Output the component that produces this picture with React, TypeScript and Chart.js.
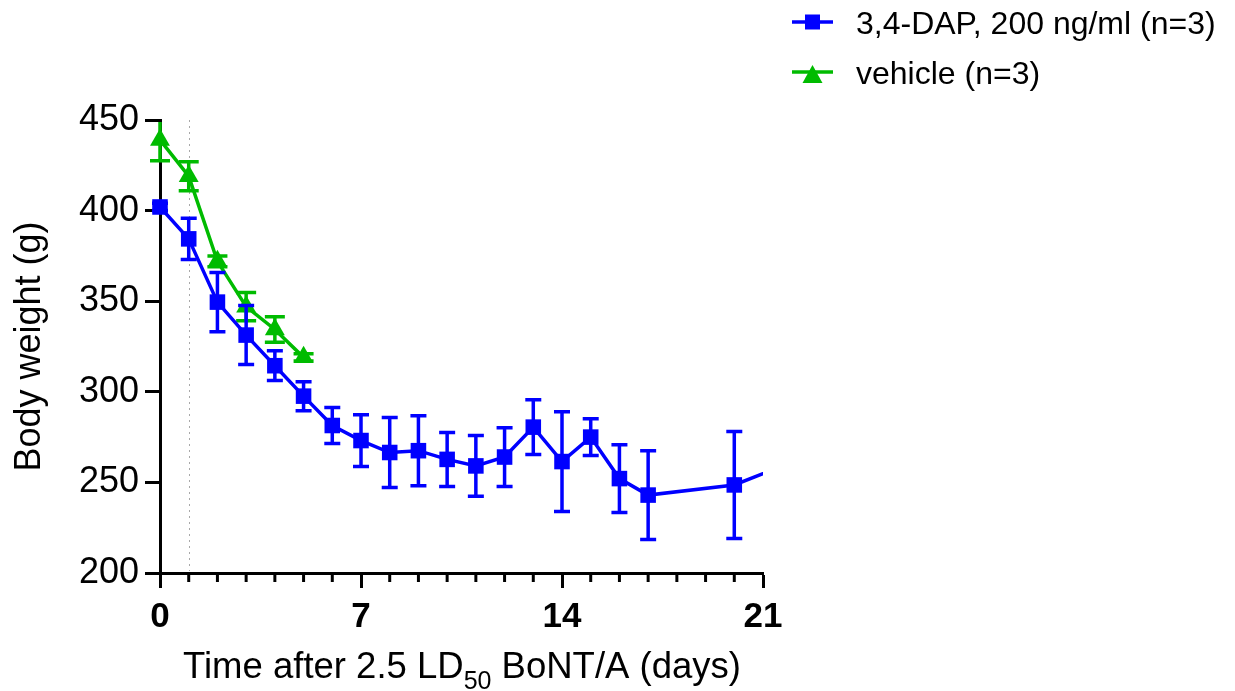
import React, { useEffect, useRef } from 'react';
import { Chart, registerables } from 'chart.js';

Chart.register(...registerables);

// ---- data ----
const dapDays = [0, 1, 2, 3, 4, 5, 6, 7, 8, 9, 10, 11, 12, 13, 14, 15, 16, 17, 20, 22];
const dapMean = [402, 384.4, 349.5, 331.3, 314.4, 297.6, 281.4, 273.1, 266.5, 267.5, 262.7, 259.1, 264, 280.5, 261.5, 275, 252.1, 243, 248.6, 261];
const dapErr = [2, 11.4, 16.3, 16.3, 8.2, 8, 9.9, 14.3, 19.3, 19.3, 14.9, 16.8, 16.2, 15.1, 27.5, 10.1, 18.7, 24.5, 29.5, 20];

const vehDays = [0, 1, 2, 3, 4, 5];
const vehMean = [439, 419, 372, 347, 334.4, 319];
const vehErr = [11.5, 8, 3, 7.8, 7, 2];

const seriesLabels = ['3,4-DAP, 200 ng/ml (n=3)', 'vehicle (n=3)'];
const seriesColors = ['#0000ff', '#00bb00'];
const xTicks = [0, 7, 14, 21];
const yTicks = [200, 250, 300, 350, 400, 450];
const minorDays = [1, 2, 3, 4, 5, 6, 8, 9, 10, 11, 12, 13, 15, 16, 17, 18, 19, 20];
const refLineDay = 1;
const xTitleParts = ['Time after 2.5 LD', '50', ' BoNT/A (days)'];
const yTitle = 'Body weight (g)';

const FONT = '"Liberation Sans", Arial, Helvetica, sans-serif';
const errorSets = [dapErr, vehErr];
const capWidths = [16, 20];

const errorBarPlugin = {
  id: 'errorBars',
  beforeDatasetDraw(chart: any, args: any) {
    const i = args.index;
    const { ctx, chartArea, scales } = chart;
    const x = scales.x, y = scales.y;
    const ds = chart.data.datasets[i];
    const errs = errorSets[i];
    const cap = capWidths[i];
    ctx.save();
    ctx.beginPath();
    ctx.rect(chartArea.left - 30, chartArea.top + 2, chartArea.right - chartArea.left + 30, chartArea.bottom - chartArea.top + 30);
    ctx.clip();
    ctx.strokeStyle = ds.borderColor;
    ctx.lineWidth = 3.5;
    ctx.lineCap = 'butt';
    ds.data.forEach((p: any, j: number) => {
      const px = x.getPixelForValue(p.x);
      const top = y.getPixelForValue(p.y + errs[j]);
      const bot = y.getPixelForValue(p.y - errs[j]);
      ctx.beginPath();
      ctx.moveTo(px, top);
      ctx.lineTo(px, bot);
      ctx.moveTo(px - cap / 2, top);
      ctx.lineTo(px + cap / 2, top);
      ctx.moveTo(px - cap / 2, bot);
      ctx.lineTo(px + cap / 2, bot);
      ctx.stroke();
    });
    ctx.restore();
  },
};

const decorPlugin = {
  id: 'decor',
  beforeDatasetsDraw(chart: any) {
    const { ctx, chartArea, scales } = chart;
    const x = scales.x;
    ctx.save();
    // dotted reference line
    const rx = Math.round(x.getPixelForValue(refLineDay)) + 0.5;
    ctx.strokeStyle = '#a8a8a8';
    ctx.lineWidth = 1;
    ctx.setLineDash([2, 4]);
    ctx.beginPath();
    ctx.moveTo(rx, chartArea.top);
    ctx.lineTo(rx, chartArea.bottom - 2);
    ctx.stroke();
    ctx.setLineDash([]);
    // minor x ticks
    ctx.strokeStyle = '#000';
    ctx.lineWidth = 3;
    minorDays.forEach((d) => {
      const px = x.getPixelForValue(d);
      ctx.beginPath();
      ctx.moveTo(px, chartArea.bottom);
      ctx.lineTo(px, chartArea.bottom + 9);
      ctx.stroke();
    });
    ctx.restore();
  },
  afterDraw(chart: any) {
    const { ctx } = chart;
    ctx.save();
    // x-axis title with subscript
    const big = `36.5px ${FONT}`;
    const small = `25px ${FONT}`;
    ctx.font = big;
    const w0 = ctx.measureText(xTitleParts[0]).width;
    const w2 = ctx.measureText(xTitleParts[2]).width;
    ctx.font = small;
    const w1 = ctx.measureText(xTitleParts[1]).width;
    const total = w0 + w1 + w2;
    let sx = 462 - total / 2;
    const base = 678;
    ctx.fillStyle = '#000';
    ctx.textBaseline = 'alphabetic';
    ctx.textAlign = 'left';
    ctx.font = big;
    ctx.fillText(xTitleParts[0], sx, base);
    sx += w0;
    ctx.font = small;
    ctx.fillText(xTitleParts[1], sx, base + 11);
    sx += w1;
    ctx.font = big;
    ctx.fillText(xTitleParts[2], sx, base);

    // legend
    const rows = [22, 72];
    ctx.font = `32px ${FONT}`;
    rows.forEach((ry, i) => {
      ctx.strokeStyle = seriesColors[i];
      ctx.fillStyle = seriesColors[i];
      ctx.lineWidth = 3.5;
      ctx.beginPath();
      ctx.moveTo(792, ry);
      ctx.lineTo(833, ry);
      ctx.stroke();
      const cx = 812.5;
      if (i === 0) {
        ctx.fillRect(cx - 7.5, ry - 7.5, 15, 15);
      } else {
        ctx.beginPath();
        ctx.moveTo(cx, ry - 7);
        ctx.lineTo(cx + 10, ry + 11);
        ctx.lineTo(cx - 10, ry + 11);
        ctx.closePath();
        ctx.fill();
      }
      ctx.fillStyle = '#000';
      ctx.fillText(seriesLabels[i], 856, ry + 12);
    });
    ctx.restore();
  },
};

export default function App() {
  const ref = useRef<HTMLCanvasElement>(null);
  useEffect(() => {
    Chart.defaults.font.family = FONT;
    const chart = new Chart(ref.current as HTMLCanvasElement, {
      type: 'line',
      data: {
        datasets: [
          {
            label: seriesLabels[0],
            data: dapDays.map((d, i) => ({ x: d, y: dapMean[i] })),
            borderColor: seriesColors[0],
            backgroundColor: seriesColors[0],
            borderWidth: 3.5,
            pointStyle: 'rect',
            pointRadius: 11,
            pointBorderWidth: 0,
            tension: 0,
            clip: { left: 30, top: 30, right: 0, bottom: 30 } as any,
          },
          {
            label: seriesLabels[1],
            data: vehDays.map((d, i) => ({ x: d, y: vehMean[i] })),
            borderColor: seriesColors[1],
            backgroundColor: seriesColors[1],
            borderWidth: 3.5,
            pointStyle: 'triangle',
            pointRadius: 11.5,
            pointBorderWidth: 0,
            tension: 0,
            clip: { left: 30, top: 30, right: 0, bottom: 30 } as any,
          },
        ],
      },
      options: {
        animation: false,
        responsive: false,
        devicePixelRatio: 1,
        layout: { padding: { top: 120, right: 472, left: 0, bottom: 0 } },
        plugins: { legend: { display: false }, tooltip: { enabled: false } },
        scales: {
          x: {
            type: 'linear',
            min: 0,
            max: 21,
            afterBuildTicks: (s: any) => { s.ticks = xTicks.map((v) => ({ value: v })); },
            afterFit: (s: any) => { s.height = 118; },
            ticks: {
              font: { size: 35, weight: 'bold' },
              color: '#000',
              padding: 8,
              maxRotation: 0,
              autoSkip: false,
            },
            grid: { drawOnChartArea: false, tickLength: 15, tickWidth: 3, tickColor: '#000' },
            border: { color: '#000', width: 3 },
          },
          y: {
            type: 'linear',
            min: 200,
            max: 450,
            afterBuildTicks: (s: any) => { s.ticks = yTicks.map((v) => ({ value: v })); },
            afterFit: (s: any) => { s.width = 160; },
            ticks: { font: { size: 36 }, color: '#000', padding: 6 },
            grid: { drawOnChartArea: false, tickLength: 15, tickWidth: 3, tickColor: '#000' },
            border: { color: '#000', width: 3 },
            title: { display: true, text: yTitle, font: { size: 36 }, color: '#000', padding: { top: 8, bottom: 0 } },
          },
        },
      },
      plugins: [errorBarPlugin, decorPlugin],
    } as any);
    return () => chart.destroy();
  }, []);
  return (
    <div style={{ position: 'fixed', left: 0, top: 0, width: 1235, height: 691, background: '#fff' }}>
      <canvas ref={ref} width={1235} height={691} style={{ display: 'block', width: 1235, height: 691 }} />
    </div>
  );
}
